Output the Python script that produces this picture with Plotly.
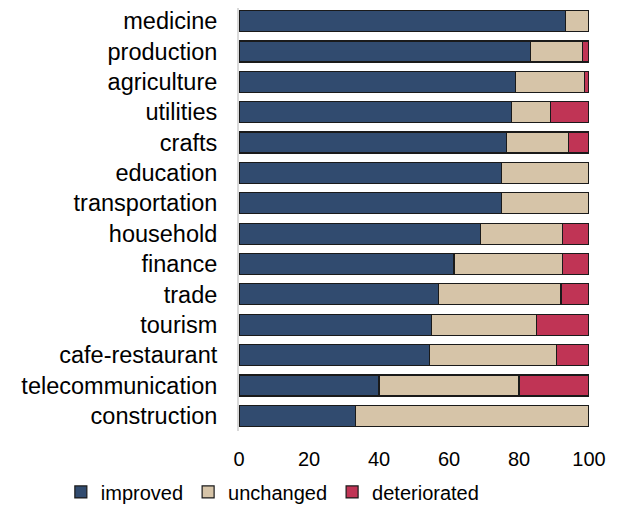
import plotly.graph_objects as go

categories = ["medicine", "production", "agriculture", "utilities", "crafts", "education",
              "transportation", "household", "finance", "trade", "tourism",
              "cafe-restaurant", "telecommunication", "construction"]
improved = [93.3, 83.3, 79.1, 77.9, 76.5, 75.0, 75.0, 69.1, 61.4, 57.1, 54.9, 54.5, 40.0, 33.3]
unchanged = [6.7, 14.9, 19.7, 11.0, 17.7, 25.0, 25.0, 23.3, 31.0, 34.9, 30.1, 36.3, 40.0, 66.7]
deteriorated = [0.0, 1.8, 1.2, 11.1, 5.8, 0.0, 0.0, 7.6, 7.6, 8.0, 15.0, 9.2, 20.0, 0.0]

series = [("improved", improved, "#314b6f"),
          ("unchanged", unchanged, "#d6c4a8"),
          ("deteriorated", deteriorated, "#c03455")]

fig = go.Figure()
for name, vals, col in series:
    fig.add_trace(go.Bar(
        y=categories, x=vals, name=name, orientation="h",
        marker=dict(color=col, line=dict(color="#1a1a1a", width=1.2)),
    ))

# page has an 8px body margin, so the figure is 8px smaller and margins shifted
fig.update_layout(
    barmode="stack",
    bargap=0.31,
    width=615, height=499,
    margin=dict(l=231, r=34, t=0, b=76, autoexpand=False),
    paper_bgcolor="white", plot_bgcolor="white",
    font=dict(family="Liberation Sans, Arial, sans-serif", size=20, color="#000000"),
    showlegend=True,
    legend=dict(orientation="h", traceorder="normal",
                x=-0.509, xanchor="left", xref="paper",
                y=-0.144, yanchor="middle", yref="paper",
                font=dict(size=20), itemwidth=30),
    xaxis=dict(range=[0, 100], tickvals=[0, 20, 40, 60, 80, 100], showgrid=False,
               zeroline=False, showline=False, ticks="", ticklabelstandoff=14,
               automargin=False, tickfont=dict(size=20)),
    yaxis=dict(range=[13.5, -0.43], showgrid=False, zeroline=False,
               showline=True, linecolor="#d9d9d9", linewidth=2, ticks="",
               ticklabelstandoff=15, tickfont=dict(size=23.5), automargin=False),
)

fig.write_html("out.html")
